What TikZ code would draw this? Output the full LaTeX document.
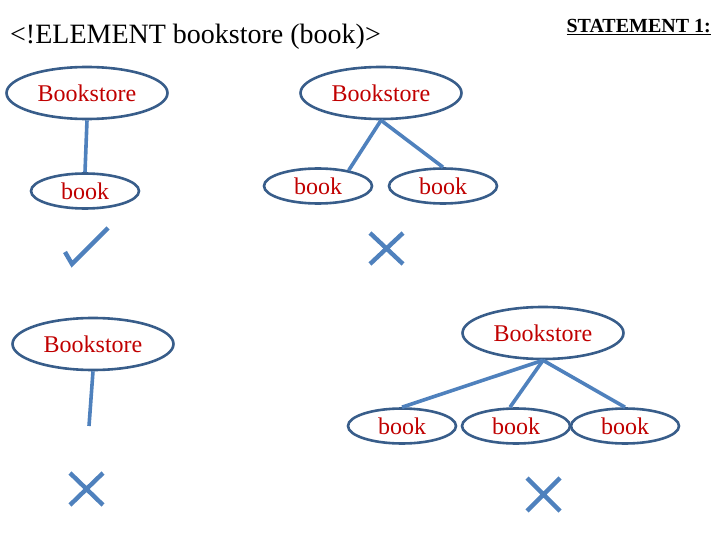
\documentclass[tikz,border=0pt]{standalone}
\usepackage{fontspec}
\setmainfont{Liberation Serif}
\usetikzlibrary{shapes.geometric}
\definecolor{ringblue}{HTML}{385D8A}
\definecolor{linkblue}{HTML}{4F81BD}
\definecolor{labelred}{HTML}{C00000}
\begin{document}
\begin{tikzpicture}[x=1pt, y=-1pt,
  root/.style={ellipse, draw=ringblue, line width=2.6pt, inner sep=0pt,
    minimum width=161pt, minimum height=52pt, text=labelred,
    font=\fontsize{24}{28}\selectfont},
  leaf/.style={root, minimum width=108pt, minimum height=35pt},
  link/.style={draw=linkblue, line width=3.6pt},
  tickline/.style={draw=linkblue, line width=4.4pt}]
  \useasboundingbox (0,0) rectangle (720,540);
  % heading
  \node[anchor=base west, inner sep=0pt, font=\fontsize{28}{32}\selectfont] (title) at (10,44) {<!ELEMENT bookstore (book)>};
  \node[anchor=base east, inner sep=0pt, font=\fontsize{20}{24}\selectfont\bfseries] (stmt) at (711,33) {\underline{STATEMENT 1:}};
  % one book: allowed
  \node[root] (b1) at (87,93) {Bookstore};
  \node[leaf] (k1) at (85,191) {book};
  \draw[link] (b1.south) -- (k1.north);
  \draw[tickline] (65,252) -- (72,264) -- (108,228);
  % two books: not allowed
  \node[root] (b2) at (381,93) {Bookstore};
  \node[leaf] (k21) at (318,186) {book};
  \node[leaf] (k22) at (443,186) {book};
  \draw[link] (b2.south) -- (k21.27);
  \draw[link] (b2.south) -- (k22.north);
  \draw[tickline] (370,233) -- (403,264) (370,264) -- (403,233);
  % no book: not allowed
  \node[root] (b3) at (93,344) {Bookstore};
  \coordinate (e3) at (89,426);
  \draw[link] (b3.south) -- (e3);
  \draw[tickline] (70,473) -- (103,505) (70,505) -- (103,473);
  % three books: not allowed
  \node[root] (b4) at (543,333) {Bookstore};
  \node[leaf] (k41) at (402,426) {book};
  \node[leaf] (k42) at (516,426) {book};
  \node[leaf] (k43) at (625,426) {book};
  \draw[link] (b4.south) -- (k41.north);
  \draw[link] (b4.south) -- ([xshift=-6pt]k42.north);
  \draw[link] (b4.south) -- (k43.north);
  \draw[tickline] (527,478) -- (560,511) (527,511) -- (560,478);
\end{tikzpicture}
\end{document}
